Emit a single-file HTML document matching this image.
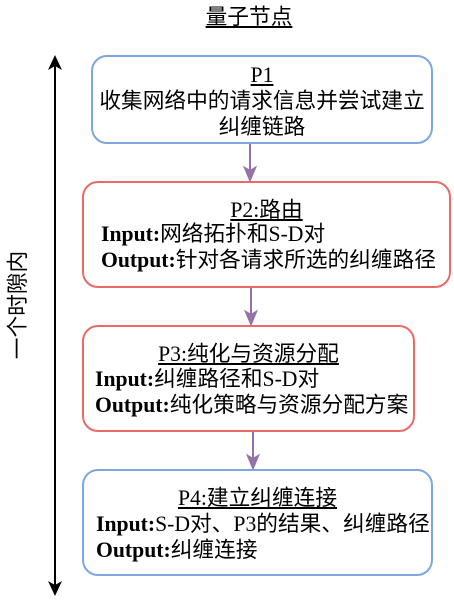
<!DOCTYPE html>
<html><head><meta charset="utf-8"><style>
body{margin:0;width:454px;height:612px;background:#fff;position:relative;overflow:hidden;font-family:"Liberation Serif","Noto Sans CJK SC",sans-serif;font-size:21.7px;color:#000}
.b{position:absolute;box-sizing:border-box;border:2px solid;border-radius:16px;background:#fff}
.t{position:absolute;white-space:nowrap;line-height:26px}
u{text-decoration:underline}
.c{text-align:center}
</style></head><body>
<svg width="454" height="612" style="position:absolute;left:0;top:0">
<line x1="55" y1="66" x2="55" y2="586" stroke="#000" stroke-width="2"/>
<polygon points="55,55 48,70 55,66 62,70" fill="#000"/>
<polygon points="55,596 48,581 55,585 62,581" fill="#000"/>
<g stroke="#9673A6" stroke-width="2" fill="#9673A6">
<line x1="250" y1="144" x2="250" y2="172"/><polygon points="250,180 245,168 250,171 255,168"/>
<line x1="251" y1="288" x2="251" y2="316"/><polygon points="251,324 246,312 251,315 256,312"/>
<line x1="253" y1="432" x2="253" y2="460"/><polygon points="253,468 248,456 253,459 258,456"/>
</g>
</svg>
<div class="t" style="left:0;width:498px;top:4px;text-align:center"><u>量子节点</u></div>
<div class="t" style="left:-42px;top:292px;width:120px;text-align:center;transform:rotate(-90deg)">一个时隙内</div>
<div class="b" style="left:91px;top:55px;width:342px;height:89px;border-color:#7EA6E0"></div>
<div class="t c" style="left:91px;width:342px;top:62px"><u>P1</u><br>收集网络中的请求信息并尝试建立<br>纠缠链路</div>
<div class="b" style="left:82px;top:181px;width:369px;height:107px;border-color:#EA6B66"></div>
<div class="t c" style="left:82px;width:369px;top:197px"><u>P2:路由</u></div>
<div class="t" style="left:101px;top:221px"><b>Input:</b>网络拓扑和S-D对<br><b>Output:</b>针对各请求所选的纠缠路径</div>
<div class="b" style="left:82px;top:325px;width:333px;height:107px;border-color:#EA6B66"></div>
<div class="t c" style="left:82px;width:333px;top:341px"><u>P3:纯化与资源分配</u></div>
<div class="t" style="left:95px;top:366px"><b>Input:</b>纠缠路径和S-D对<br><b>Output:</b>纯化策略与资源分配方案</div>
<div class="b" style="left:82px;top:469px;width:351px;height:107px;border-color:#7EA6E0"></div>
<div class="t c" style="left:82px;width:351px;top:485px"><u>P4:建立纠缠连接</u></div>
<div class="t" style="left:96px;top:511px"><b>Input:</b>S-D对、P3的结果、纠缠路径<br><b>Output:</b>纠缠连接</div>
</body></html>
